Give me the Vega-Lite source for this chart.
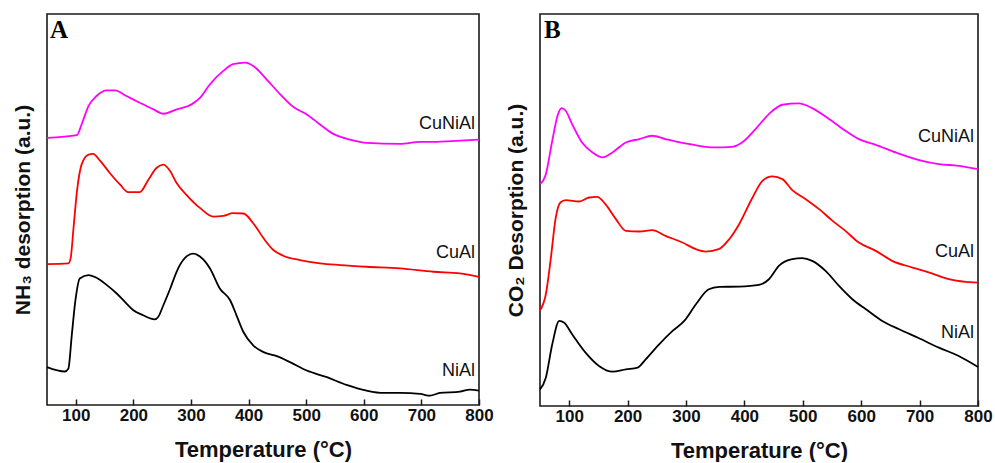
{
  "$schema": "https://vega.github.io/schema/vega-lite/v6.json",
  "padding": {"left": 11, "top": 13, "right": 1, "bottom": 0},
  "spacing": 10,
  "config": {
    "view": {"stroke": "#1a1a1a", "strokeWidth": 1.6},
    "font": "Liberation Sans",
    "axis": {"grid": false, "domain": false, "labelFont": "Liberation Sans", "titleFont": "Liberation Sans"}
  },
  "datasets": {
    "nh3": [
      {"s":"NiAl","T":50,"v":113},{"s":"NiAl","T":81,"v":100},{"s":"NiAl","T":87,"v":108},{"s":"NiAl","T":93,"v":208},{"s":"NiAl","T":99,"v":308},{"s":"NiAl","T":107,"v":378},{"s":"NiAl","T":122,"v":388},{"s":"NiAl","T":136,"v":380},{"s":"NiAl","T":154,"v":358},{"s":"NiAl","T":171,"v":333},{"s":"NiAl","T":188,"v":303},{"s":"NiAl","T":200,"v":283},{"s":"NiAl","T":217,"v":268},{"s":"NiAl","T":237,"v":256},{"s":"NiAl","T":243,"v":263},{"s":"NiAl","T":252,"v":298},{"s":"NiAl","T":264,"v":348},{"s":"NiAl","T":275,"v":398},{"s":"NiAl","T":290,"v":440},{"s":"NiAl","T":304,"v":452},{"s":"NiAl","T":316,"v":443},{"s":"NiAl","T":333,"v":408},{"s":"NiAl","T":350,"v":348},{"s":"NiAl","T":368,"v":313},{"s":"NiAl","T":379,"v":268},{"s":"NiAl","T":391,"v":218},{"s":"NiAl","T":408,"v":178},{"s":"NiAl","T":426,"v":158},{"s":"NiAl","T":449,"v":146},{"s":"NiAl","T":472,"v":128},{"s":"NiAl","T":501,"v":103},{"s":"NiAl","T":536,"v":83},{"s":"NiAl","T":570,"v":60},{"s":"NiAl","T":605,"v":43},{"s":"NiAl","T":634,"v":36},{"s":"NiAl","T":663,"v":36},{"s":"NiAl","T":698,"v":33},{"s":"NiAl","T":715,"v":28},{"s":"NiAl","T":732,"v":36},{"s":"NiAl","T":767,"v":40},{"s":"NiAl","T":784,"v":46},{"s":"NiAl","T":800,"v":43},
      {"s":"CuAl","T":50,"v":421},{"s":"CuAl","T":87,"v":423},{"s":"CuAl","T":91,"v":438},{"s":"CuAl","T":96,"v":528},{"s":"CuAl","T":102,"v":638},{"s":"CuAl","T":110,"v":718},{"s":"CuAl","T":122,"v":748},{"s":"CuAl","T":130,"v":750},{"s":"CuAl","T":142,"v":730},{"s":"CuAl","T":159,"v":693},{"s":"CuAl","T":177,"v":658},{"s":"CuAl","T":191,"v":636},{"s":"CuAl","T":211,"v":636},{"s":"CuAl","T":226,"v":673},{"s":"CuAl","T":240,"v":708},{"s":"CuAl","T":252,"v":718},{"s":"CuAl","T":264,"v":698},{"s":"CuAl","T":275,"v":663},{"s":"CuAl","T":292,"v":628},{"s":"CuAl","T":316,"v":588},{"s":"CuAl","T":339,"v":563},{"s":"CuAl","T":356,"v":565},{"s":"CuAl","T":373,"v":573},{"s":"CuAl","T":391,"v":572},{"s":"CuAl","T":408,"v":543},{"s":"CuAl","T":426,"v":498},{"s":"CuAl","T":443,"v":463},{"s":"CuAl","T":460,"v":446},{"s":"CuAl","T":489,"v":433},{"s":"CuAl","T":524,"v":423},{"s":"CuAl","T":559,"v":418},{"s":"CuAl","T":605,"v":413},{"s":"CuAl","T":663,"v":408},{"s":"CuAl","T":721,"v":398},{"s":"CuAl","T":767,"v":393},{"s":"CuAl","T":800,"v":383},
      {"s":"CuNiAl","T":50,"v":798},{"s":"CuNiAl","T":102,"v":806},{"s":"CuNiAl","T":110,"v":838},{"s":"CuNiAl","T":122,"v":893},{"s":"CuNiAl","T":136,"v":923},{"s":"CuNiAl","T":154,"v":940},{"s":"CuNiAl","T":168,"v":940},{"s":"CuNiAl","T":188,"v":923},{"s":"CuNiAl","T":211,"v":903},{"s":"CuNiAl","T":235,"v":883},{"s":"CuNiAl","T":252,"v":870},{"s":"CuNiAl","T":275,"v":883},{"s":"CuNiAl","T":301,"v":898},{"s":"CuNiAl","T":316,"v":918},{"s":"CuNiAl","T":333,"v":958},{"s":"CuNiAl","T":356,"v":998},{"s":"CuNiAl","T":373,"v":1018},{"s":"CuNiAl","T":394,"v":1023},{"s":"CuNiAl","T":408,"v":1013},{"s":"CuNiAl","T":431,"v":973},{"s":"CuNiAl","T":455,"v":928},{"s":"CuNiAl","T":478,"v":890},{"s":"CuNiAl","T":501,"v":868},{"s":"CuNiAl","T":524,"v":838},{"s":"CuNiAl","T":547,"v":810},{"s":"CuNiAl","T":576,"v":793},{"s":"CuNiAl","T":605,"v":783},{"s":"CuNiAl","T":663,"v":780},{"s":"CuNiAl","T":698,"v":786},{"s":"CuNiAl","T":721,"v":786},{"s":"CuNiAl","T":767,"v":790},{"s":"CuNiAl","T":800,"v":793}
    ],
    "co2": [
      {"s":"NiAl","T":50,"v":50},{"s":"NiAl","T":60,"v":85},{"s":"NiAl","T":71,"v":185},{"s":"NiAl","T":83,"v":255},{"s":"NiAl","T":91,"v":250},{"s":"NiAl","T":105,"v":215},{"s":"NiAl","T":128,"v":160},{"s":"NiAl","T":151,"v":120},{"s":"NiAl","T":174,"v":103},{"s":"NiAl","T":197,"v":110},{"s":"NiAl","T":217,"v":115},{"s":"NiAl","T":231,"v":140},{"s":"NiAl","T":254,"v":185},{"s":"NiAl","T":277,"v":225},{"s":"NiAl","T":297,"v":255},{"s":"NiAl","T":317,"v":305},{"s":"NiAl","T":339,"v":350},{"s":"NiAl","T":357,"v":357},{"s":"NiAl","T":391,"v":358},{"s":"NiAl","T":425,"v":363},{"s":"NiAl","T":442,"v":380},{"s":"NiAl","T":459,"v":420},{"s":"NiAl","T":482,"v":440},{"s":"NiAl","T":499,"v":443},{"s":"NiAl","T":516,"v":435},{"s":"NiAl","T":539,"v":405},{"s":"NiAl","T":562,"v":360},{"s":"NiAl","T":585,"v":320},{"s":"NiAl","T":608,"v":290},{"s":"NiAl","T":636,"v":255},{"s":"NiAl","T":665,"v":230},{"s":"NiAl","T":699,"v":203},{"s":"NiAl","T":733,"v":175},{"s":"NiAl","T":767,"v":150},{"s":"NiAl","T":800,"v":117},
      {"s":"CuAl","T":50,"v":287},{"s":"CuAl","T":60,"v":335},{"s":"CuAl","T":68,"v":435},{"s":"CuAl","T":77,"v":565},{"s":"CuAl","T":85,"v":610},{"s":"CuAl","T":94,"v":617},{"s":"CuAl","T":117,"v":613},{"s":"CuAl","T":134,"v":625},{"s":"CuAl","T":148,"v":627},{"s":"CuAl","T":162,"v":605},{"s":"CuAl","T":180,"v":560},{"s":"CuAl","T":197,"v":525},{"s":"CuAl","T":220,"v":523},{"s":"CuAl","T":242,"v":527},{"s":"CuAl","T":265,"v":510},{"s":"CuAl","T":294,"v":490},{"s":"CuAl","T":317,"v":470},{"s":"CuAl","T":334,"v":463},{"s":"CuAl","T":356,"v":470},{"s":"CuAl","T":374,"v":500},{"s":"CuAl","T":391,"v":545},{"s":"CuAl","T":414,"v":625},{"s":"CuAl","T":431,"v":675},{"s":"CuAl","T":448,"v":688},{"s":"CuAl","T":465,"v":680},{"s":"CuAl","T":482,"v":647},{"s":"CuAl","T":505,"v":620},{"s":"CuAl","T":528,"v":590},{"s":"CuAl","T":551,"v":555},{"s":"CuAl","T":573,"v":525},{"s":"CuAl","T":596,"v":490},{"s":"CuAl","T":625,"v":465},{"s":"CuAl","T":653,"v":435},{"s":"CuAl","T":688,"v":415},{"s":"CuAl","T":722,"v":397},{"s":"CuAl","T":750,"v":380},{"s":"CuAl","T":779,"v":372},{"s":"CuAl","T":800,"v":370},
      {"s":"CuNiAl","T":50,"v":665},{"s":"CuNiAl","T":60,"v":695},{"s":"CuNiAl","T":71,"v":795},{"s":"CuNiAl","T":80,"v":870},{"s":"CuNiAl","T":87,"v":893},{"s":"CuNiAl","T":94,"v":885},{"s":"CuNiAl","T":105,"v":845},{"s":"CuNiAl","T":122,"v":790},{"s":"CuNiAl","T":140,"v":760},{"s":"CuNiAl","T":157,"v":745},{"s":"CuNiAl","T":174,"v":760},{"s":"CuNiAl","T":197,"v":790},{"s":"CuNiAl","T":220,"v":800},{"s":"CuNiAl","T":242,"v":810},{"s":"CuNiAl","T":265,"v":800},{"s":"CuNiAl","T":299,"v":787},{"s":"CuNiAl","T":322,"v":780},{"s":"CuNiAl","T":345,"v":775},{"s":"CuNiAl","T":379,"v":777},{"s":"CuNiAl","T":396,"v":790},{"s":"CuNiAl","T":419,"v":830},{"s":"CuNiAl","T":442,"v":875},{"s":"CuNiAl","T":465,"v":903},{"s":"CuNiAl","T":493,"v":907},{"s":"CuNiAl","T":516,"v":893},{"s":"CuNiAl","T":545,"v":860},{"s":"CuNiAl","T":573,"v":825},{"s":"CuNiAl","T":596,"v":800},{"s":"CuNiAl","T":625,"v":783},{"s":"CuNiAl","T":659,"v":760},{"s":"CuNiAl","T":699,"v":737},{"s":"CuNiAl","T":733,"v":725},{"s":"CuNiAl","T":767,"v":720},{"s":"CuNiAl","T":800,"v":710}
    ],
    "nh3labels": [
      {"label":"CuNiAl","T":793,"v":823},{"label":"CuAl","T":793,"v":438},{"label":"NiAl","T":793,"v":86}
    ],
    "co2labels": [
      {"label":"CuNiAl","T":793,"v":790},{"label":"CuAl","T":793,"v":447},{"label":"NiAl","T":793,"v":205}
    ],
    "nh3letter": [{"label":"A","T":55,"v":1096}],
    "co2letter": [{"label":"B","T":57,"v":1103}]
  },
  "hconcat": [
    {
      "width": 432, "height": 391,
      "layer": [
        {
          "data": {"name": "nh3"},
          "mark": {"type": "line", "strokeWidth": 1.8, "interpolate": "monotone"},
          "encoding": {
            "x": {"field": "T", "type": "quantitative", "scale": {"domain": [50, 800], "nice": false, "zero": false},
              "axis": {"values": [100,200,300,400,500,600,700,800], "title": "Temperature (°C)", "tickSize": -6, "tickWidth": 1.5, "tickColor": "#1a1a1a", "labelFontSize": 17, "labelFontWeight": "bold", "labelColor": "#111", "labelPadding": 8, "labelFlush": false, "labelOverlap": false, "titleFontSize": 22, "titleFontWeight": "bold", "titleColor": "#111", "titlePadding": 16}},
            "y": {"field": "v", "type": "quantitative", "scale": {"domain": [0, 1168], "nice": false},
              "axis": {"title": "NH₃ desorption (a.u.)", "labels": false, "ticks": false, "titleFontSize": 21, "titleFontWeight": "bold", "titleColor": "#111", "titlePadding": 14}},
            "color": {"field": "s", "type": "nominal", "scale": {"domain": ["CuNiAl","CuAl","NiAl"], "range": ["#ff00ff","#ff0000","#000000"]}, "legend": null},
            "detail": {"field": "s"}
          }
        },
        {
          "data": {"name": "nh3labels"},
          "mark": {"type": "text", "align": "right", "baseline": "alphabetic", "fontSize": 18, "color": "#111"},
          "encoding": {"x": {"field": "T", "type": "quantitative"}, "y": {"field": "v", "type": "quantitative"}, "text": {"field": "label"}}
        },
        {
          "data": {"name": "nh3letter"},
          "mark": {"type": "text", "align": "left", "baseline": "alphabetic", "fontSize": 25, "fontWeight": "bold", "font": "Liberation Serif", "color": "#000"},
          "encoding": {"x": {"field": "T", "type": "quantitative"}, "y": {"field": "v", "type": "quantitative"}, "text": {"field": "label"}}
        }
      ]
    },
    {
      "width": 438, "height": 392,
      "layer": [
        {
          "data": {"name": "co2"},
          "mark": {"type": "line", "strokeWidth": 1.8, "interpolate": "monotone"},
          "encoding": {
            "x": {"field": "T", "type": "quantitative", "scale": {"domain": [50, 800], "nice": false, "zero": false},
              "axis": {"values": [100,200,300,400,500,600,700,800], "title": "Temperature (°C)", "tickSize": -6, "tickWidth": 1.5, "tickColor": "#1a1a1a", "labelFontSize": 17, "labelFontWeight": "bold", "labelColor": "#111", "labelPadding": 8, "labelFlush": false, "labelOverlap": false, "titleFontSize": 22, "titleFontWeight": "bold", "titleColor": "#111", "titlePadding": 16}},
            "y": {"field": "v", "type": "quantitative", "scale": {"domain": [0, 1175], "nice": false},
              "axis": {"title": "CO₂ Desorption (a.u.)", "labels": false, "ticks": false, "titleFontSize": 21, "titleFontWeight": "bold", "titleColor": "#111", "titlePadding": 14}},
            "color": {"field": "s", "type": "nominal", "scale": {"domain": ["CuNiAl","CuAl","NiAl"], "range": ["#ff00ff","#ff0000","#000000"]}, "legend": null},
            "detail": {"field": "s"}
          }
        },
        {
          "data": {"name": "co2labels"},
          "mark": {"type": "text", "align": "right", "baseline": "alphabetic", "fontSize": 18, "color": "#111"},
          "encoding": {"x": {"field": "T", "type": "quantitative"}, "y": {"field": "v", "type": "quantitative"}, "text": {"field": "label"}}
        },
        {
          "data": {"name": "co2letter"},
          "mark": {"type": "text", "align": "left", "baseline": "alphabetic", "fontSize": 25, "fontWeight": "bold", "font": "Liberation Serif", "color": "#000"},
          "encoding": {"x": {"field": "T", "type": "quantitative"}, "y": {"field": "v", "type": "quantitative"}, "text": {"field": "label"}}
        }
      ]
    }
  ],
  "resolve": {"scale": {"color": "shared"}}
}
